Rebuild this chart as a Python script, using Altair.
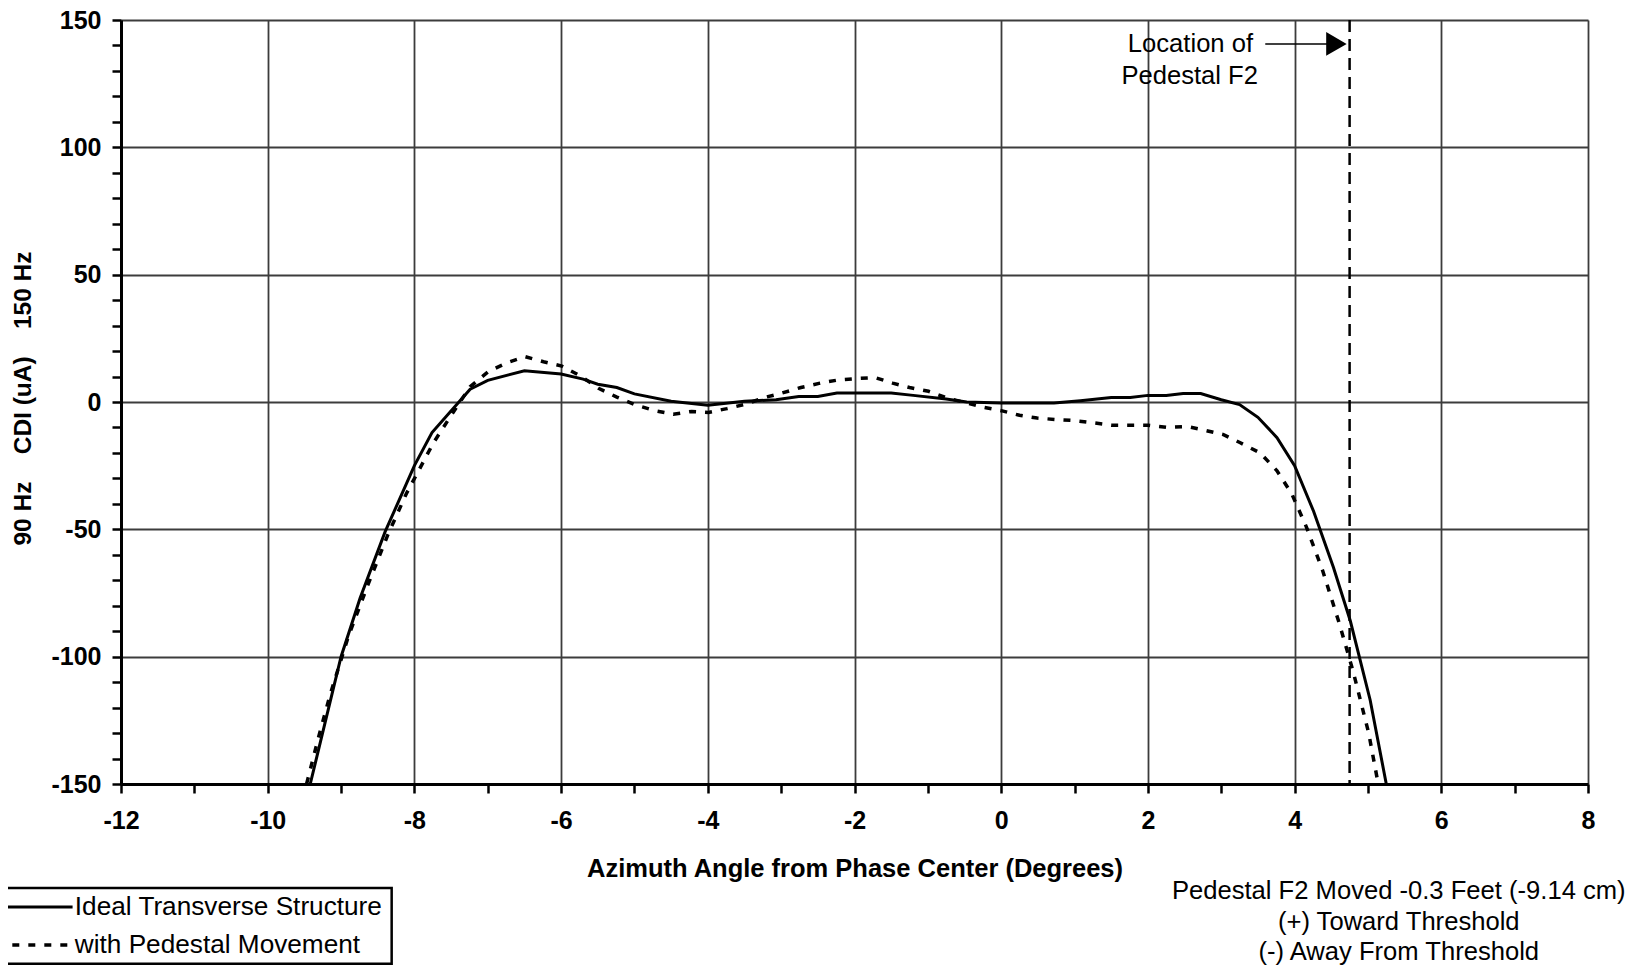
import altair as alt
import pandas as pd

# ---- data ----
ideal_x = [-9.42, -9.0, -8.74, -8.40, -8.0, -7.76, -7.24, -7.0, -6.5, -6.0, -5.7, -5.5,
           -5.24, -5.0, -4.5, -4.0, -3.5, -3.07, -2.76, -2.5, -2.24, -1.5, -1.2, -0.75,
           -0.47, 0.0, 0.72, 1.08, 1.5, 1.76, 2.0, 2.25, 2.48, 2.72, 3.0, 3.25, 3.5,
           3.76, 4.0, 4.26, 4.53, 4.76, 5.03, 5.25]
ideal_y = [-150, -100, -77, -51, -25, -12, 5, 8.5, 12.3, 11, 9, 7,
           5.7, 3.2, 0.3, -1.3, 0.3, 0.9, 2.2, 2.2, 3.5, 3.5, 2.6, 1.2,
           0.0, -0.4, -0.4, 0.5, 1.8, 1.8, 2.6, 2.6, 3.3, 3.3, 0.9, -1.0, -6.0,
           -14, -25, -43, -65, -86, -117, -150]

moved_x = [-9.47, -9.31, -9.15, -8.9, -8.63, -8.36, -8.11, -7.98, -7.74, -7.48, -7.24,
           -6.99, -6.72, -6.49, -6.24, -5.99, -5.74, -5.49, -5.24, -4.99, -4.72, -4.47,
           -4.22, -3.99, -3.74, -3.48, -3.22, -2.99, -2.73, -2.47, -2.21, -1.97, -1.72,
           -1.48, -1.25, -0.99, -0.74, -0.47, -0.24, 0.0, 0.25, 0.49, 0.75, 1.0, 1.26,
           1.5, 2.0, 2.26, 2.53, 2.76, 3.03, 3.26, 3.53, 3.76, 3.96, 4.16, 4.38, 4.61,
           4.80, 5.01, 5.14]
moved_y = [-150, -132, -115, -92, -71.5, -52, -36, -29, -16, -4.4, 6,
           12, 15.6, 17.8, 15.8, 14.1, 10.3, 5.4, 1.9, -1.1, -3.4, -4.8,
           -3.7, -4.1, -2.6, -0.8, 1.8, 3.5, 5.7, 7.4, 8.7, 9.2, 9.6,
           7.4, 5.7, 4.2, 1.6, -0.4, -2.1, -3.4, -5.2, -6.3, -6.9, -7.3, -8.2,
           -9.1, -9.1, -10, -9.6, -11, -12.8, -16, -20, -27, -36, -49, -66, -87,
           -106, -130, -150]

pedestal_x = 4.75

x_ticks = list(range(-12, 9))
y_ticks = list(range(-150, 151, 10))

series_names = ["Ideal Transverse Structure", "with Pedestal Movement"]
note_lines = ["Pedestal F2 Moved -0.3 Feet (-9.14 cm)", "(+) Toward Threshold",
              "(-) Away From Threshold"]
marker_lines = ["Location of", "Pedestal F2"]

FONT = "Liberation Sans"
TXT = 25.6
LEG_TXT = 26.2

ideal = pd.DataFrame({"x": ideal_x, "y": ideal_y})
moved = pd.DataFrame({"x": moved_x, "y": moved_y})

xs = alt.Scale(domain=[-12, 8], nice=False, zero=False)
ys = alt.Scale(domain=[-150, 150], nice=False, zero=False)

x_axis = alt.Axis(
    values=x_ticks, tickCount=100,
    labelExpr="datum.value % 2 === 0 ? '' + datum.value : ''",
    grid=True,
    gridColor="#3c3c3c",
    gridWidth=1.8,
    gridOpacity={"condition": {"test": "datum.value % 2 === 0", "value": 1}, "value": 0},
    domainColor="black", domainWidth=3,
    tickColor="black", tickWidth=2.5, tickSize=9,
    labelFont=FONT, labelFontSize=25, labelFontWeight="bold", labelColor="black",
    labelPadding=15, labelFlush=False, labelOverlap=False,
    title="Azimuth Angle from Phase Center (Degrees)",
    titleFont=FONT, titleFontSize=25.5, titleFontWeight="bold", titleColor="black",
    titleX=733.5, titleY=84, titleBaseline="middle", titleAlign="center",
)
y_axis = alt.Axis(
    values=y_ticks, tickCount=100,
    labelExpr="datum.value % 50 === 0 ? '' + datum.value : ''",
    grid=True,
    gridColor="#3c3c3c",
    gridWidth=1.8,
    gridOpacity={"condition": {"test": "datum.value % 50 === 0", "value": 1}, "value": 0},
    domainColor="black", domainWidth=3,
    tickColor="black", tickWidth=2.5, tickSize=9,
    labelFont=FONT, labelFontSize=25, labelFontWeight="bold", labelColor="black",
    labelPadding=11, labelFlush=False, labelOverlap=False,
    title="90 Hz\u00a0\u00a0\u00a0\u00a0CDI (uA)\u00a0\u00a0\u00a0\u00a0150 Hz",
    titleFont=FONT, titleFontSize=24.5, titleFontWeight="bold", titleColor="black",
    titleAngle=270, titleX=-98, titleY=378, titleBaseline="middle", titleAlign="center",
)

ideal_line = alt.Chart(ideal).mark_line(color="black", strokeWidth=3).encode(
    x=alt.X("x:Q", scale=xs, axis=x_axis),
    y=alt.Y("y:Q", scale=ys, axis=y_axis),
)
moved_line = alt.Chart(moved).mark_line(color="black", strokeWidth=3.5, strokeDash=[7, 9]).encode(
    x=alt.X("x:Q", scale=xs),
    y=alt.Y("y:Q", scale=ys),
)

ped_rule = alt.Chart().mark_rule(color="black", strokeWidth=2.5, strokeDash=[12, 7]).encode(
    x=alt.datum(pedestal_x, scale=xs)
)

# "Location of / Pedestal F2" annotation with arrow
loc_text1 = alt.Chart().mark_text(font=FONT, fontSize=TXT, color="black", align="center",
                                  baseline="middle").encode(
    x=alt.datum(2.58), y=alt.datum(140.6), text=alt.value(marker_lines[0]))
loc_text2 = alt.Chart().mark_text(font=FONT, fontSize=TXT, color="black", align="center",
                                  baseline="middle").encode(
    x=alt.datum(2.57), y=alt.datum(128.0), text=alt.value(marker_lines[1]))
arrow_line = alt.Chart().mark_rule(color="black", strokeWidth=1.5).encode(
    x=alt.datum(3.6), x2=alt.datum(4.45), y=alt.datum(140.6))
arrow_head = alt.Chart().mark_point(shape="triangle-right", filled=True, color="black",
                                    opacity=1, size=560).encode(
    x=alt.datum(4.57), y=alt.datum(140.6))

# bottom-right note
note_df = pd.DataFrame({"t": note_lines, "y": [-192.0, -204.2, -216.0]})
note = alt.Chart(note_df).mark_text(font=FONT, fontSize=TXT, color="black", align="center",
                                    baseline="middle").encode(
    x=alt.datum(5.42), y=alt.Y("y:Q", scale=ys), text="t:N")

# manual legend box (bottom-left)
leg_box = alt.Chart().mark_rect(fill="white", stroke="black", strokeWidth=2.5).encode(
    x=alt.datum(-13.9), x2=alt.datum(-8.31), y=alt.datum(-190.8), y2=alt.datum(-220.6))
leg_solid = alt.Chart().mark_rule(color="black", strokeWidth=3).encode(
    x=alt.datum(-13.7), x2=alt.datum(-12.66), y=alt.datum(-198.3))
leg_dash = alt.Chart().mark_rule(color="black", strokeWidth=3.5, strokeDash=[7, 9]).encode(
    x=alt.datum(-13.7), x2=alt.datum(-12.66), y=alt.datum(-213.2))
leg_t1 = alt.Chart().mark_text(font=FONT, fontSize=LEG_TXT, color="black", align="left",
                               baseline="middle").encode(
    x=alt.datum(-12.63), y=alt.datum(-198.3), text=alt.value(series_names[0]))
leg_t2 = alt.Chart().mark_text(font=FONT, fontSize=LEG_TXT, color="black", align="left",
                               baseline="middle").encode(
    x=alt.datum(-12.63), y=alt.datum(-213.2), text=alt.value(series_names[1]))

chart = alt.layer(
    ideal_line, moved_line, ped_rule, loc_text1, loc_text2, arrow_line, arrow_head,
    note, leg_box, leg_solid, leg_dash, leg_t1, leg_t2
).properties(
    width=1467, height=764,
    autosize=alt.AutoSizeParams(type="none"),
    padding={"left": 113, "top": 12, "right": 44, "bottom": 183},
    background="white",
).configure_view(
    stroke="black", strokeWidth=3
).configure(font=FONT)

chart.save("out.html", embed_options={"renderer": "svg", "actions": False})
